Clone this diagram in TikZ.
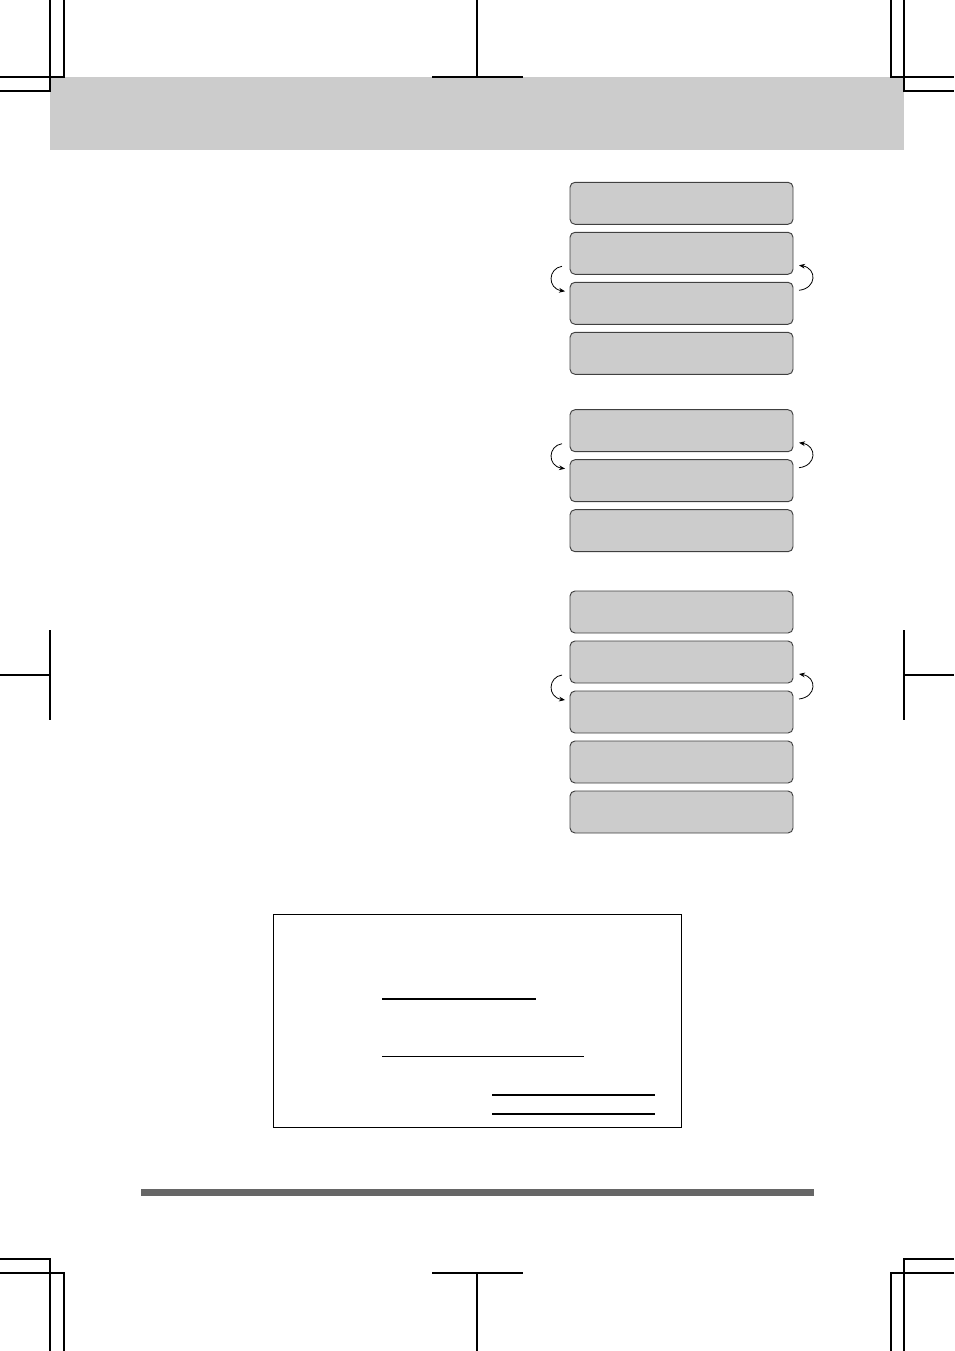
\documentclass[tikz,border=0pt]{standalone}
\usetikzlibrary{arrows.meta,calc}
\definecolor{panel}{HTML}{CCCCCC}
\definecolor{edge}{HTML}{404040}
\definecolor{bar}{HTML}{666666}
\tikzset{
  crop/.style={line width=0.8pt,black},
  lcd/.style={draw=edge,fill=panel,line width=0.7pt,rounded corners=3.75pt,
    minimum width=167.25pt,minimum height=31.5pt,inner sep=0pt,outer sep=0pt},
  loopar/.style={line width=0.6pt,-{Stealth[length=4.5pt,width=3.6pt]}},
  rule/.style={line width=0.9pt}
}
\begin{document}
\begin{tikzpicture}[x=0.75pt,y=-0.75pt]
\useasboundingbox (0,0) rectangle (954,1351);
% header band
\fill[panel] (50,77) rectangle (904,150);
% crop marks top
\draw[crop] (64,0) -- (64,77) -- (0,77);
\draw[crop] (50,0) -- (50,91) -- (0,91);
\draw[crop] (891,0) -- (891,77) -- (954,77);
\draw[crop] (904,0) -- (904,91) -- (954,91);
\draw[crop] (477,0) -- (477,77);
\draw[crop] (432,77) -- (523,77);
% middle marks
\draw[crop] (50,630) -- (50,720);
\draw[crop] (0,675) -- (50,675);
\draw[crop] (904,630) -- (904,720);
\draw[crop] (904,675) -- (954,675);
% bottom marks
\draw[crop] (0,1259) -- (50,1259) -- (50,1351);
\draw[crop] (0,1273) -- (64,1273) -- (64,1351);
\draw[crop] (954,1259) -- (904,1259) -- (904,1351);
\draw[crop] (954,1273) -- (891,1273) -- (891,1351);
\draw[crop] (432,1273) -- (523,1273);
\draw[crop] (477,1273) -- (477,1351);
% group 1
\node[lcd] (a1) at (681.5,203.3) {};
\node[lcd] (a2) at (681.5,253.3) {};
\node[lcd] (a3) at (681.5,303.3) {};
\node[lcd] (a4) at (681.5,353.3) {};
% group 2
\node[lcd] (b1) at (681.5,430.7) {};
\node[lcd] (b2) at (681.5,480.7) {};
\node[lcd] (b3) at (681.5,530.7) {};
% group 3
\node[lcd] (c1) at (681.5,612) {};
\node[lcd] (c2) at (681.5,662) {};
\node[lcd] (c3) at (681.5,712) {};
\node[lcd] (c4) at (681.5,762) {};
\node[lcd] (c5) at (681.5,812) {};
% loop arrows
\foreach \u/\l in {a2/a3,b1/b2,c2/c3}{
  \coordinate (ls-\u) at ($(\u.south west)+(-8,-8)$);
  \coordinate (lt-\u) at ($(\l.north west)+(-5,9)$);
  \coordinate (rs-\u) at ($(\l.north east)+(6,8)$);
  \coordinate (rt-\u) at ($(\u.south east)+(6,-9)$);
  \draw[loopar] (ls-\u) .. controls ($(ls-\u)+(-14,2)$) and ($(lt-\u)+(-18,-3)$) .. (lt-\u);
  \draw[loopar] (rs-\u) .. controls ($(rs-\u)+(18,-2)$) and ($(rt-\u)+(18,3)$) .. (rt-\u);
}
% bottom frame
\node[draw,line width=1pt,minimum width=306.3pt,minimum height=159.75pt,inner sep=0pt,outer sep=0pt] (frame) at (477.5,1020.8) {};
\draw[rule] (382,999) -- (536,999);
\draw[rule] (382,1056.7) -- (584,1056.7);
\draw[rule] (492,1095) -- (655,1095);
\draw[rule] (492,1114) -- (655,1114);
% footer bar
\fill[bar] (141,1189) rectangle (814,1196);
\end{tikzpicture}
\end{document}
